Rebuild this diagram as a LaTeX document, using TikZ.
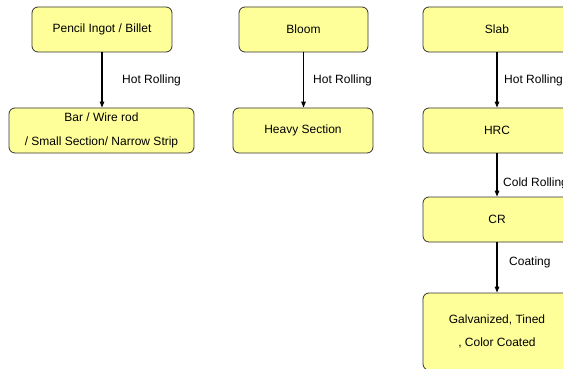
\documentclass[tikz,border=0pt]{standalone}
\usepackage{fontspec}
\setmainfont{Liberation Sans}
\usetikzlibrary{arrows.meta}
\definecolor{boxfill}{HTML}{FFFF99}
\begin{document}
\begin{tikzpicture}[x=1pt,y=-1pt,
  box/.style={draw=black!80, line width=0.8pt, fill=boxfill, rounded corners=6pt,
    inner sep=0pt, align=center, minimum height=45pt,
    font=\fontsize{12}{23.5}\selectfont},
  flow/.style={-{Triangle[length=6pt,width=4.5pt]}, line width=1.2pt},
  lbl/.style={font=\fontsize{12}{14}\selectfont, anchor=west, inner sep=0pt}]
\useasboundingbox (0,0) rectangle (563,369);
\clip (0,0) rectangle (563,369);
% column 1
\node[box, minimum width=140pt] (pencil) at (102,29.5) {Pencil Ingot / Billet};
\node[box, minimum width=185pt] (bar) at (101.5,130.5) {Bar / Wire rod\\/ Small Section/ Narrow Strip};
\draw[flow] (pencil.south) -- (pencil.south |- bar.north);
\node[lbl] (l1) at (122,80) {Hot Rolling};
% column 2
\node[box, minimum width=129pt] (bloom) at (303.5,29.5) {Bloom};
\node[box, minimum width=140pt] (heavy) at (303,130.5) {Heavy Section};
\draw[flow] (bloom.south) -- (bloom.south |- heavy.north);
\node[lbl] (l2) at (313,80) {Hot Rolling};
% column 3
\node[box, minimum width=148pt] (slab) at (497,29.5) {Slab};
\node[box, minimum width=148pt] (hrc) at (497,130.5) {HRC};
\node[box, minimum width=148pt] (cr) at (497,219.5) {CR};
\node[box, minimum width=148pt, minimum height=77pt] (galv) at (497,331.5) {Galvanized, Tined\\, Color Coated};
\draw[flow] (slab.south) -- (hrc.north);
\draw[flow] (hrc.south) -- (cr.north);
\draw[flow] (cr.south) -- (galv.north);
\node[lbl] (l3) at (504,80) {Hot Rolling};
\node[lbl] (l4) at (503,183) {Cold Rolling};
\node[lbl] (l5) at (509,262) {Coating};
\end{tikzpicture}
\end{document}
